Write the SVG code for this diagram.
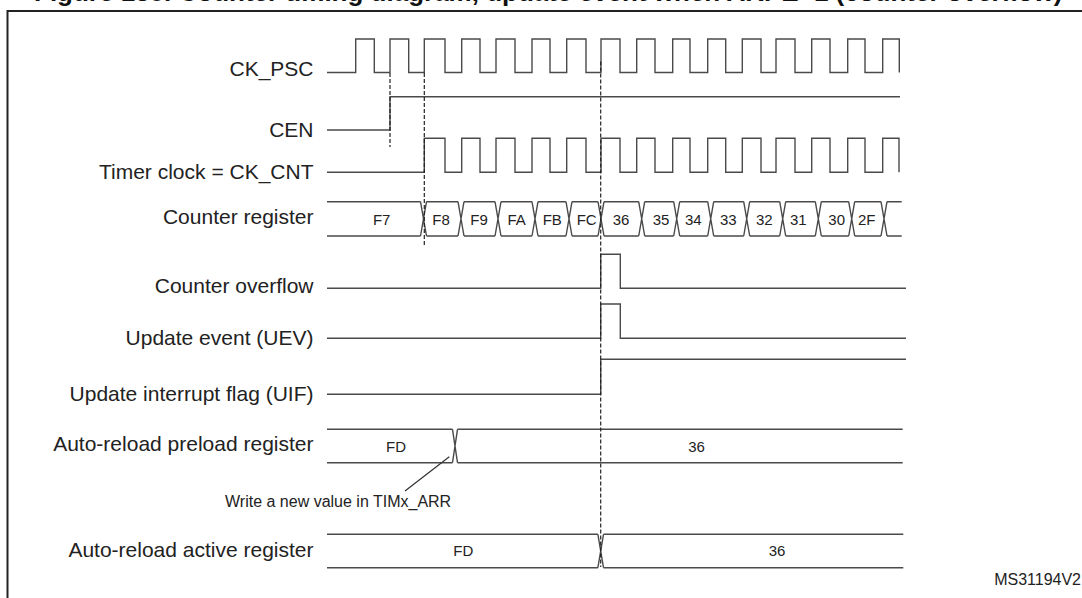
<svg xmlns="http://www.w3.org/2000/svg" width="1082" height="598" viewBox="0 0 1082 598">
<style>
  .lbl{font-family:"Liberation Sans",Arial,sans-serif;font-size:21px;fill:#222;text-anchor:end}
  .val{font-family:"Liberation Sans",Arial,sans-serif;font-size:15px;fill:#222;text-anchor:middle}
  .note{font-family:"Liberation Sans",Arial,sans-serif;font-size:16px;fill:#222}
  .title{font-family:"Liberation Sans",Arial,sans-serif;font-size:26px;font-weight:bold;fill:#111}
  .wave{fill:none;stroke:#4a4a4a;stroke-width:1.4;stroke-linejoin:miter}
  .dash{fill:none;stroke:#222;stroke-width:1.2;stroke-dasharray:4 2}
  .ptr{fill:none;stroke:#333;stroke-width:1.2}
</style>
<rect width="1082" height="598" fill="#fff"/>
<text class="title" x="34" y="0.5">Figure 138. Counter timing diagram, update event when ARPE=1 (counter overflow)</text>
<rect x="7.5" y="11" width="1100" height="700" fill="none" stroke="#222" stroke-width="2"/>

<g id="ck_psc">
  <text class="lbl" x="313.5" y="76">CK_PSC</text>
  <path class="wave" d="M327,72.5 H355.7 V39 H374.3 V72.5 H390 V39 H408.7 V72.5 H424.3 V39 H445 V72.5 H461.7 V39 H480 V72.5 H496 V39 H515 V72.5 H532 V39 H550 V72.5 H566.7 V39 H586 V72.5 H601 V39 H620 V72.5 H636.7 V39 H655 V72.5 H672.7 V39 H690 V72.5 H707.7 V39 H725.7 V72.5 H742.3 V39 H761 V72.5 H776 V39 H795 V72.5 H811.7 V39 H830 V72.5 H847.7 V39 H865 V72.5 H882.7 V39 H899.3 V72.5"/>
</g>

<g id="cen">
  <text class="lbl" x="313.5" y="136.7">CEN</text>
  <path class="wave" d="M327,130 H390 V96.7 H900"/>
</g>

<g id="ck_cnt">
  <text class="lbl" x="313.5" y="179.3">Timer clock = CK_CNT</text>
  <path class="wave" d="M327,172.3 H424.3 V138.3 H445 V172.3 H461.7 V138.3 H480 V172.3 H496 V138.3 H515 V172.3 H532 V138.3 H550 V172.3 H566.7 V138.3 H586 V172.3 H601 V138.3 H620 V172.3 H636.7 V138.3 H655 V172.3 H672.7 V138.3 H690 V172.3 H707.7 V138.3 H725.7 V172.3 H742.3 V138.3 H761 V172.3 H776 V138.3 H795 V172.3 H811.7 V138.3 H830 V172.3 H847.7 V138.3 H865 V172.3 H882.7 V138.3 H899 V172.3"/>
</g>

<g id="counter_register">
  <text class="lbl" x="313.5" y="224">Counter register</text>
  <path class="wave" d="
    M327,201.7 H420.5 M327,236 H420.5
    M426.5,201.7 H458 M426.5,236 H458
    M464,201.7 H495 M464,236 H495
    M501,201.7 H532 M501,236 H532
    M538,201.7 H566 M538,236 H566
    M572,201.7 H598 M572,236 H598
    M604,201.7 H638.7 M604,236 H638.7
    M644.7,201.7 H673.7 M644.7,236 H673.7
    M679.7,201.7 H707.7 M679.7,236 H707.7
    M713.7,201.7 H743.7 M713.7,236 H743.7
    M749.7,201.7 H779.7 M749.7,236 H779.7
    M785.7,201.7 H815.3 M785.7,236 H815.3
    M821.3,201.7 H848.7 M821.3,236 H848.7
    M854.7,201.7 H881 M854.7,236 H881
    M887,201.7 H901.7 M887,236 H901.7
    M420.5,201.7 L426.5,236 M420.5,236 L426.5,201.7
    M458,201.7 L464,236 M458,236 L464,201.7
    M495,201.7 L501,236 M495,236 L501,201.7
    M532,201.7 L538,236 M532,236 L538,201.7
    M566,201.7 L572,236 M566,236 L572,201.7
    M598,201.7 L604,236 M598,236 L604,201.7
    M638.7,201.7 L644.7,236 M638.7,236 L644.7,201.7
    M673.7,201.7 L679.7,236 M673.7,236 L679.7,201.7
    M707.7,201.7 L713.7,236 M707.7,236 L713.7,201.7
    M743.7,201.7 L749.7,236 M743.7,236 L749.7,201.7
    M779.7,201.7 L785.7,236 M779.7,236 L785.7,201.7
    M815.3,201.7 L821.3,236 M815.3,236 L821.3,201.7
    M848.7,201.7 L854.7,236 M848.7,236 L854.7,201.7
    M881,201.7 L887,236 M881,236 L887,201.7"/>
  <text class="val" x="381.7" y="224.5">F7</text>
  <text class="val" x="441" y="224.5">F8</text>
  <text class="val" x="479" y="224.5">F9</text>
  <text class="val" x="516.7" y="224.5">FA</text>
  <text class="val" x="552.3" y="224.5">FB</text>
  <text class="val" x="586.7" y="224.5">FC</text>
  <text class="val" x="621" y="224.5">36</text>
  <text class="val" x="661" y="224.5">35</text>
  <text class="val" x="693.3" y="224.5">34</text>
  <text class="val" x="728.3" y="224.5">33</text>
  <text class="val" x="764.3" y="224.5">32</text>
  <text class="val" x="798.3" y="224.5">31</text>
  <text class="val" x="836.7" y="224.5">30</text>
  <text class="val" x="866.7" y="224.5">2F</text>
</g>

<g id="counter_overflow">
  <text class="lbl" x="313.5" y="292.7">Counter overflow</text>
  <path class="wave" d="M327,288.3 H600.7 V254.3 H620.3 V288.3 H906"/>
</g>

<g id="uev">
  <text class="lbl" x="313.5" y="345">Update event (UEV)</text>
  <path class="wave" d="M327,338.3 H600.7 V304 H620.3 V338.3 H906"/>
</g>

<g id="uif">
  <text class="lbl" x="313.5" y="400.7">Update interrupt flag (UIF)</text>
  <path class="wave" d="M327,394.2 H600.7 V359.3 H906"/>
</g>

<g id="arr_preload">
  <text class="lbl" x="313.5" y="451">Auto-reload preload register</text>
  <path class="wave" d="M327,429.3 H452.5 M327,462.7 H452.5 M457.5,429.3 H902.7 M457.5,462.7 H902.7 M452.5,429.3 L457.5,462.7 M452.5,462.7 L457.5,429.3"/>
  <text class="val" x="396" y="451.7">FD</text>
  <text class="val" x="696.5" y="451.7">36</text>
</g>

<g id="write_note">
  <text class="note" x="225" y="507.3">Write a new value in TIMx_ARR</text>
</g>

<g id="arr_active">
  <text class="lbl" x="313.5" y="556.7">Auto-reload active register</text>
  <path class="wave" d="M327,534.3 H597.9 M327,567.7 H597.9 M603.5,534.3 H903.3 M603.5,567.7 H903.3 M597.9,534.3 L603.5,567.7 M597.9,567.7 L603.5,534.3"/>
  <text class="val" x="463.3" y="556">FD</text>
  <text class="val" x="777" y="556">36</text>
</g>

<g id="connectors">
  <path class="dash" d="M390,73 V147"/>
  <path class="dash" d="M424.3,73 V245"/>
  <path class="dash" d="M600.7,61.5 V567"/>
  <path class="ptr" d="M449.3,456.7 L405,491"/>
</g>

<text class="note" x="1081" y="585" text-anchor="end">MS31194V2</text>
</svg>
